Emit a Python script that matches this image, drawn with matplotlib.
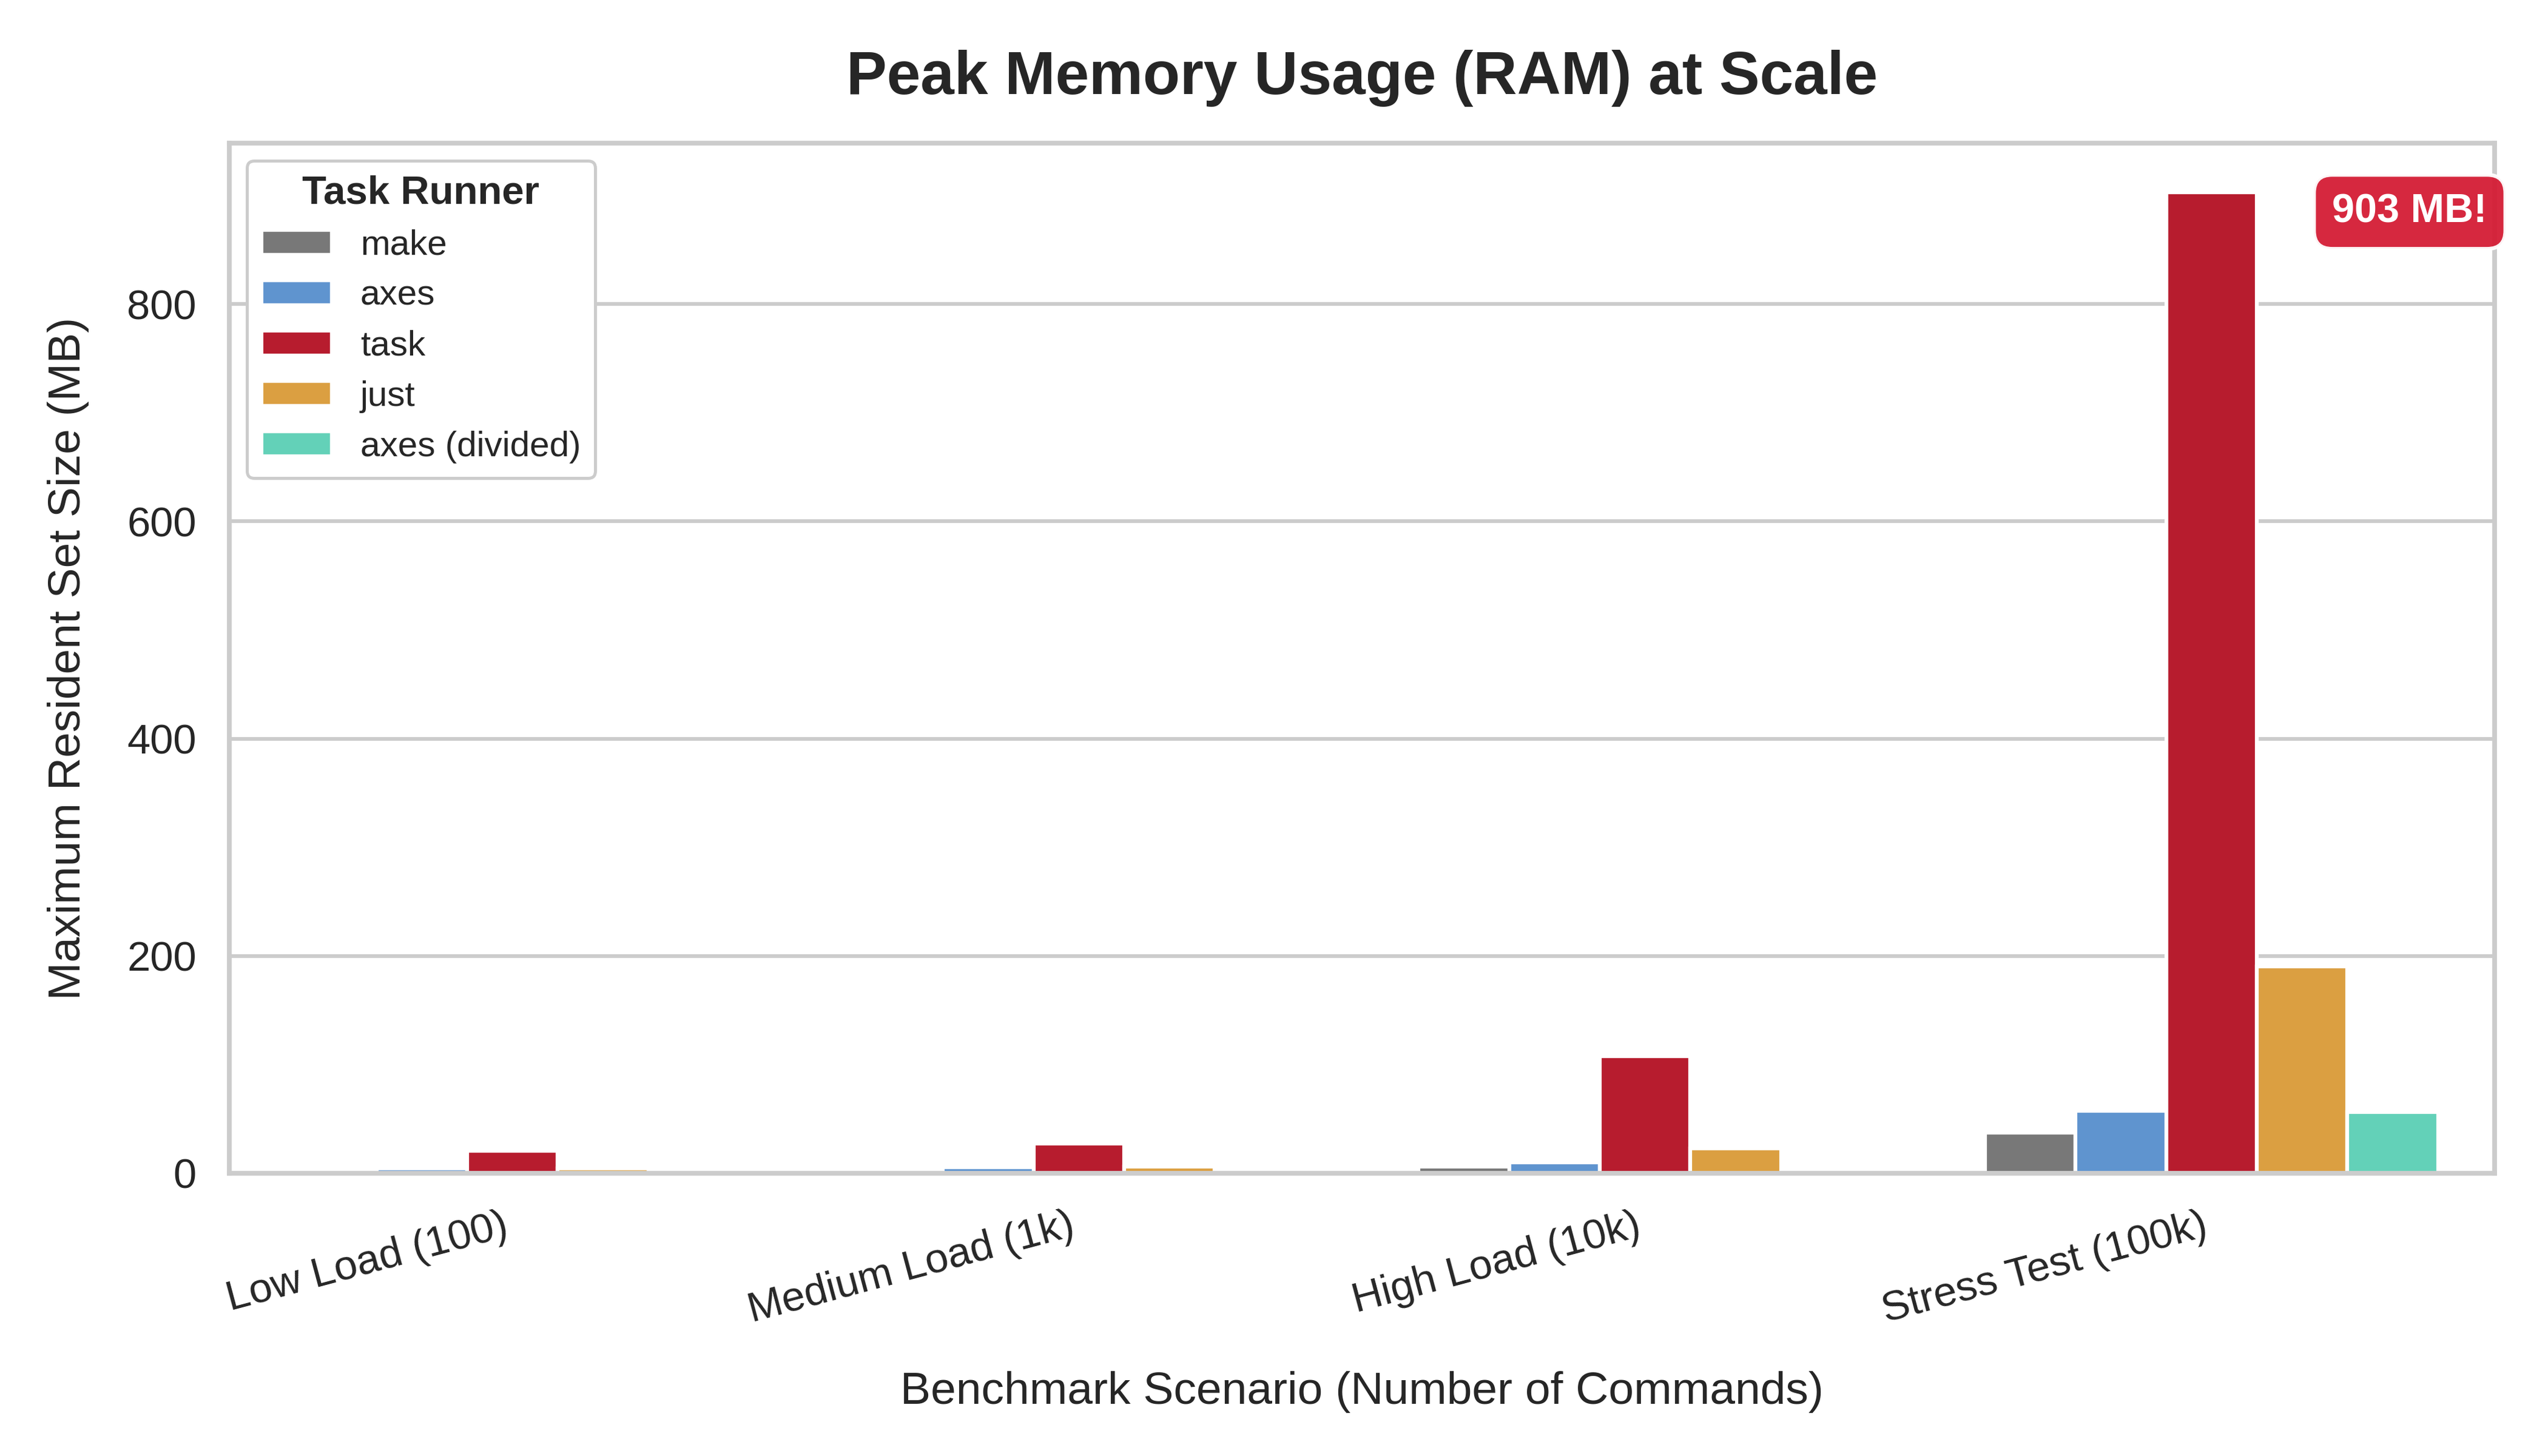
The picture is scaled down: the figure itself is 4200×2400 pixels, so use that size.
import matplotlib
matplotlib.use("Agg")
import matplotlib.pyplot as plt
import numpy as np

# ---- data ----
scenarios = ["Low Load (100)", "Medium Load (1k)", "High Load (10k)", "Stress Test (100k)"]
runners = ["make", "axes", "task", "just", "axes (divided)"]
make_mb = [2.0, 2.5, 6.2, 37.5]
axes_mb = [4.3, 5.6, 10.1, 57.6]
task_mb = [20.7, 27.4, 107.7, 903.0]
just_mb = [4.3, 6.2, 22.9, 190.5]
divided_mb = [0.0, 0.0, 0.0, 56.4]
series = [make_mb, axes_mb, task_mb, just_mb, divided_mb]
colors = ["#787878", "#5f94cf", "#b71c2e", "#db9f41", "#63d1b8"]
annotation_text = "903 MB!"

TEXT = "#262626"
GRID = "#cccccc"
plt.rcParams["font.family"] = ["Liberation Sans", "DejaVu Sans"]
plt.rcParams["text.color"] = TEXT
plt.rcParams["axes.labelcolor"] = TEXT
plt.rcParams["xtick.color"] = TEXT
plt.rcParams["ytick.color"] = TEXT

fig = plt.figure(figsize=(14, 8), dpi=300)
ax = fig.add_axes([0.09, 0.19417, 0.88905, 0.7075])

n = len(runners)
width = 0.8 / n
x = np.arange(len(scenarios))
for i, (name, vals, c) in enumerate(zip(runners, series, colors)):
    ax.bar(x + (i - (n - 1) / 2) * width, vals, width=width, color=c,
           edgecolor="white", linewidth=1.5, label=name, zorder=2)

ymax = max(task_mb)
ax.set_xlim(-0.5, len(scenarios) - 0.5)
ax.set_ylim(0, ymax * 1.05)
ax.set_yticks([0, 200, 400, 600, 800])

ax.set_axisbelow(True)
ax.yaxis.grid(True, color=GRID, linewidth=1.5)
ax.xaxis.grid(False)
for s in ax.spines.values():
    s.set_color(GRID)
    s.set_linewidth(1.875)

ax.set_xticks(x)
ax.set_xticklabels(scenarios, rotation=15, ha="right", fontsize=16.5)
ax.tick_params(axis="both", length=0, pad=13, labelsize=16.5)

ax.set_xlabel("Benchmark Scenario (Number of Commands)", fontsize=18, labelpad=16)
ax.set_ylabel("Maximum Resident Set Size (MB)", fontsize=18, labelpad=15)
ax.set_title("Peak Memory Usage (RAM) at Scale", fontsize=24, fontweight="bold", pad=19.5)

leg = ax.legend(title="Task Runner", loc="upper left", fontsize=14,
                title_fontproperties={"weight": "bold", "size": 15.7},
                frameon=True, fancybox=True)
leg.get_frame().set_edgecolor(GRID)
leg.get_frame().set_linewidth(1.2)
leg.get_frame().set_alpha(1)

ax.text(3.35, ymax * 0.98, annotation_text, ha="center", va="center",
        fontsize=16, fontweight="bold", color="white", zorder=5,
        bbox=dict(boxstyle="round,pad=0.45", facecolor="#d41c34",
                  edgecolor="white", linewidth=1.5, alpha=0.95))

fig.savefig("out.png", dpi=300)
